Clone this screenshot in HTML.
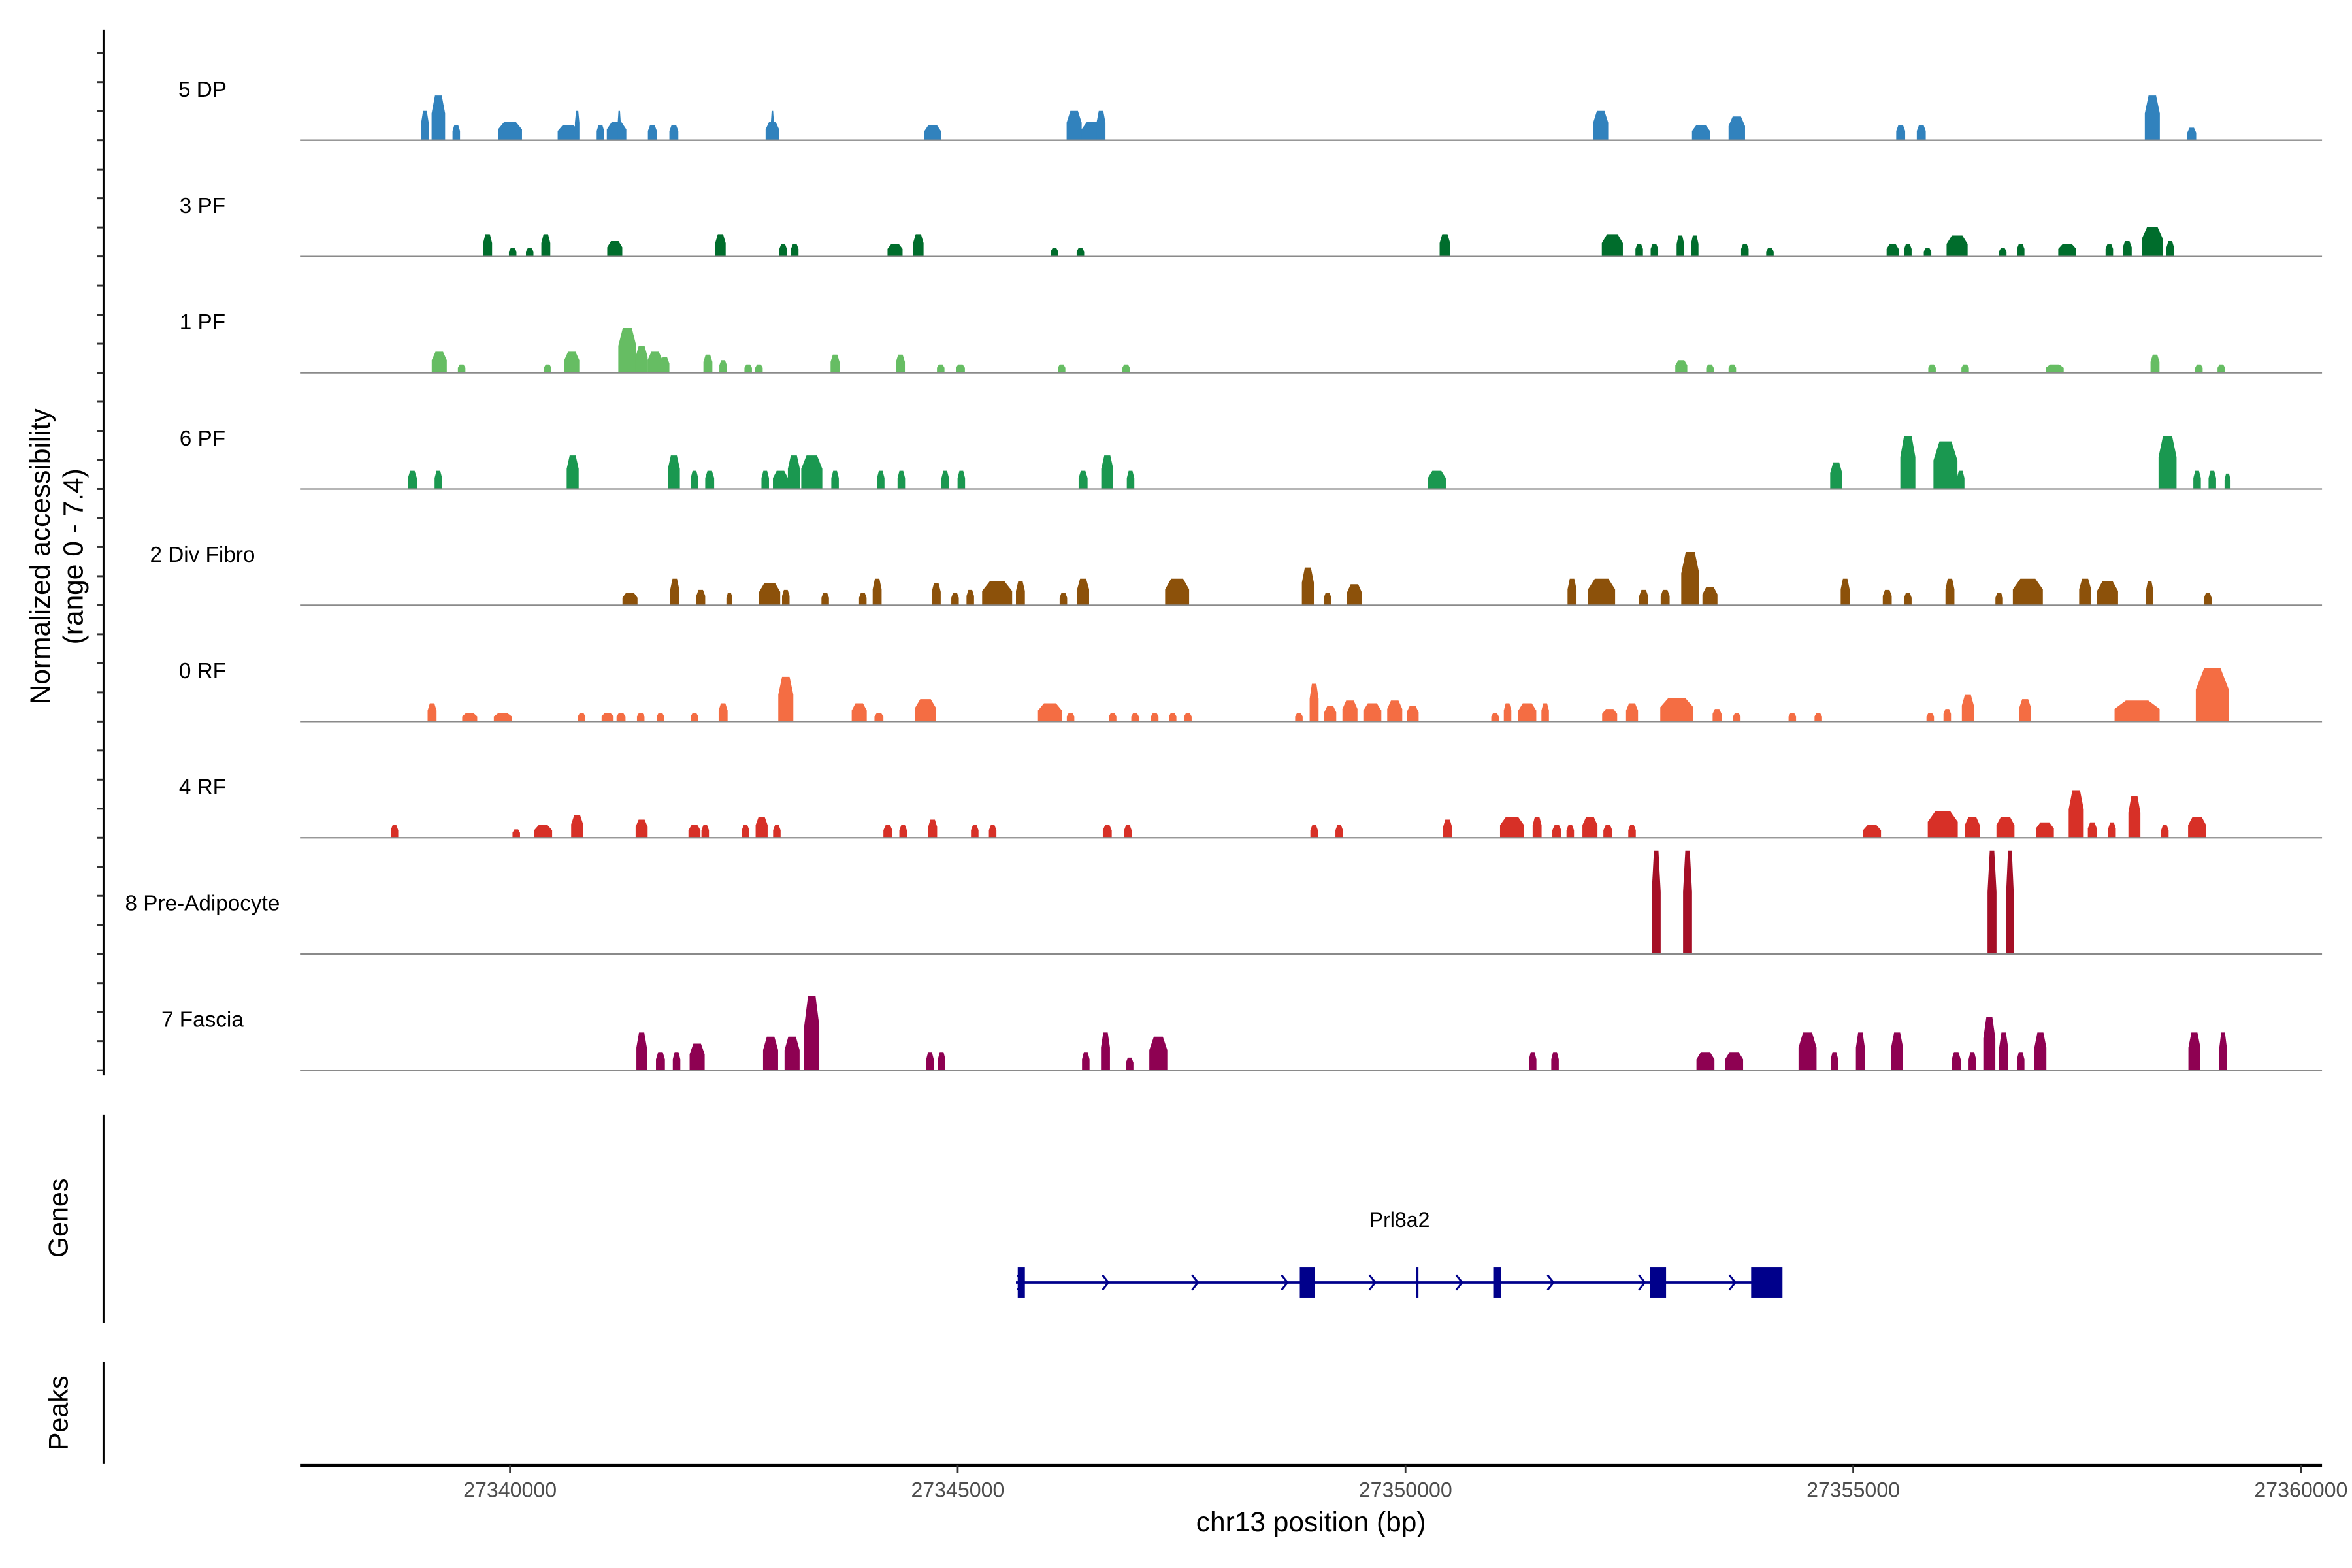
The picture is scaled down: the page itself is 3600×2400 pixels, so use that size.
<!DOCTYPE html>
<html><head><meta charset="utf-8"><style>
html,body{margin:0;padding:0;background:#fff;}
svg{display:block;font-family:"Liberation Sans",sans-serif;}
</style></head><body>
<svg id="chart" width="3600" height="2400" viewBox="0 0 1568 1045.33" xmlns="http://www.w3.org/2000/svg">
<rect width="1568" height="1046" fill="#fff"/>
<g id="tracks"></g>
<line x1="69" y1="20" x2="69" y2="717" stroke="#000" stroke-width="1.3"/>
<g id="yticks"></g>
<text transform="translate(33,371) rotate(-90)" text-anchor="middle" font-size="18.5">Normalized accessibility</text>
<text transform="translate(55,371) rotate(-90)" text-anchor="middle" font-size="18.5">(range 0 - 7.4)</text>
<line x1="69" y1="743" x2="69" y2="882" stroke="#000" stroke-width="1.3"/>
<text transform="translate(45,812) rotate(-90)" text-anchor="middle" font-size="18">Genes</text>
<line x1="69" y1="908" x2="69" y2="976" stroke="#000" stroke-width="1.3"/>
<text transform="translate(45,942) rotate(-90)" text-anchor="middle" font-size="18">Peaks</text>
<g id="gene"></g>
<line x1="200" y1="977" x2="1548" y2="977" stroke="#000" stroke-width="2"/>
<g id="xticks"></g>
<text x="874" y="1021" text-anchor="middle" font-size="18.5">chr13 position (bp)</text>
</svg>
<script>
// positions: kb offset from chr13:27,340,000 ; width in bp ; value (normalized accessibility)
const trackNames = ["5 DP","3 PF","1 PF","6 PF","2 Div Fibro","0 RF","4 RF","8 Pre-Adipocyte","7 Fascia"];
const trackColors = ["#3182bd","#006d2c","#66bd63","#1a9850","#8c510a","#f46d43","#d73027","#a50f26","#8e0152"];
const xTicks = [27340000,27345000,27350000,27355000,27360000];
const peaks5DP = [[-0.95,84,2.1],[-0.80,151,3.2],[-0.60,84,1.1],[0.00,268,1.3],[0.75,50,2.1],[0.65,235,1.1],[1.01,84,1.1],[1.19,218,1.3],[1.22,34,2.1],[1.59,100,1.1],[1.83,100,1.1],[2.93,151,1.3],[2.93,34,2.1],[4.72,184,1.1],[6.30,168,2.1],[6.50,235,1.3],[6.60,100,2.1],[12.18,168,2.1],[13.30,201,1.1],[13.70,184,1.7],[15.53,100,1.1],[15.76,100,1.1],[18.34,168,3.2],[18.78,100,0.9]];
const peaks3PF = [[-0.25,100,1.6],[0.03,84,0.6],[0.22,84,0.6],[0.40,100,1.6],[1.17,168,1.1],[2.35,117,1.6],[3.05,84,0.9],[3.18,84,0.9],[4.30,168,0.9],[4.56,117,1.6],[6.08,84,0.6],[6.37,84,0.6],[10.44,117,1.6],[12.31,235,1.6],[12.61,84,0.9],[12.78,84,0.9],[13.07,84,1.5],[13.23,84,1.5],[13.79,84,0.9],[14.07,84,0.6],[15.44,134,0.9],[15.61,84,0.9],[15.83,84,0.6],[16.16,235,1.5],[16.67,84,0.6],[16.87,84,0.9],[17.39,201,0.9],[17.86,84,0.9],[18.06,100,1.1],[18.34,235,2.1],[18.54,84,1.1]];
const peaks1PF = [[-0.79,168,1.5],[-0.54,84,0.6],[0.42,84,0.6],[0.69,168,1.5],[1.31,201,3.2],[1.47,134,1.9],[1.62,168,1.5],[1.73,100,1.1],[2.21,100,1.3],[2.38,84,0.9],[2.66,84,0.6],[2.78,84,0.6],[3.63,100,1.3],[4.36,100,1.3],[4.81,84,0.6],[5.03,100,0.6],[6.16,84,0.6],[6.88,84,0.6],[13.08,134,0.9],[13.40,84,0.6],[13.65,84,0.6],[15.88,84,0.6],[16.25,84,0.6],[17.25,201,0.6],[18.37,100,1.3],[18.86,84,0.6],[19.11,84,0.6]];
const peaks6PF = [[-1.09,100,1.3],[-0.80,84,1.3],[0.70,134,2.4],[1.83,134,2.4],[2.06,84,1.3],[2.23,100,1.3],[2.85,84,1.3],[3.02,168,1.3],[3.17,134,2.4],[3.37,235,2.4],[3.63,84,1.3],[4.14,84,1.3],[4.37,84,1.3],[4.86,84,1.3],[5.04,84,1.3],[6.40,100,1.3],[6.67,134,2.4],[6.93,84,1.3],[10.35,201,1.3],[14.81,134,1.9],[15.61,168,3.8],[16.03,268,3.4],[16.20,84,1.3],[18.51,201,3.8],[18.84,84,1.3],[19.01,84,1.3],[19.18,67,1.1]];
const peaksDivFibro = [[1.34,168,0.9],[1.84,100,1.9],[2.13,100,1.1],[2.45,67,0.9],[2.90,235,1.6],[3.08,84,1.1],[3.52,84,0.9],[3.94,84,0.9],[4.10,100,1.9],[4.76,100,1.6],[4.97,84,0.9],[5.14,84,1.1],[5.44,335,1.7],[5.70,100,1.7],[6.18,84,0.9],[6.40,134,1.9],[7.45,268,1.9],[8.91,134,2.7],[9.13,84,0.9],[9.43,168,1.5],[11.86,100,1.9],[12.19,302,1.9],[12.66,100,1.1],[12.90,100,1.1],[13.18,201,3.8],[13.40,168,1.3],[14.91,100,1.9],[15.38,100,1.1],[15.61,84,0.9],[16.08,100,1.9],[16.63,84,0.9],[16.95,335,1.9],[17.59,134,1.9],[17.84,235,1.7],[18.31,84,1.7],[18.96,84,0.9]];
const peaks0RF = [[-0.87,100,1.3],[-0.45,168,0.6],[-0.08,201,0.6],[0.80,84,0.6],[1.09,134,0.6],[1.24,100,0.6],[1.46,84,0.6],[1.68,84,0.6],[2.06,84,0.6],[2.38,100,1.3],[3.08,168,3.2],[3.90,168,1.3],[4.12,100,0.6],[4.64,235,1.6],[6.03,268,1.3],[6.26,84,0.6],[6.73,84,0.6],[6.98,84,0.6],[7.20,84,0.6],[7.40,84,0.6],[7.57,84,0.6],[8.81,84,0.6],[8.98,100,2.7],[9.16,134,1.1],[9.38,168,1.5],[9.63,201,1.3],[9.88,168,1.5],[10.08,134,1.1],[11.00,84,0.6],[11.14,84,1.3],[11.36,201,1.3],[11.56,84,1.3],[12.28,168,0.9],[12.53,134,1.3],[13.03,369,1.7],[13.48,100,0.9],[13.70,84,0.6],[14.32,84,0.6],[14.61,84,0.6],[15.86,84,0.6],[16.05,84,0.9],[16.28,134,1.9],[16.92,134,1.6],[18.17,503,1.5],[19.01,369,3.8]];
const peaks4RF = [[-1.29,84,0.9],[0.07,84,0.6],[0.37,201,0.9],[0.75,134,1.6],[1.47,134,1.3],[2.06,134,0.9],[2.18,84,0.9],[2.63,84,0.9],[2.81,134,1.5],[2.98,84,0.9],[4.22,100,0.9],[4.39,84,0.9],[4.72,100,1.3],[5.19,84,0.9],[5.39,84,0.9],[6.67,100,0.9],[6.90,84,0.9],[8.98,84,0.9],[9.26,84,0.9],[10.47,100,1.3],[11.19,268,1.5],[11.47,100,1.5],[11.69,100,0.9],[11.84,84,0.9],[12.06,168,1.5],[12.26,100,0.9],[12.53,84,0.9],[15.21,201,0.9],[16.00,335,1.9],[16.33,168,1.5],[16.70,201,1.5],[17.14,201,1.1],[17.49,168,3.4],[17.67,100,1.1],[17.89,84,1.1],[18.14,134,3.0],[18.48,84,0.9],[18.84,201,1.5]];
const peaksPreAd = [[12.80,100,7.4],[13.15,100,7.4],[16.55,100,7.4],[16.75,84,7.4]];
const peaksFascia = [[1.47,117,2.7],[1.68,100,1.3],[1.86,84,1.3],[2.09,168,1.9],[2.91,168,2.4],[3.15,168,2.4],[3.37,168,5.3],[4.69,84,1.3],[4.82,84,1.3],[6.43,84,1.3],[6.65,100,2.7],[6.92,84,0.9],[7.24,201,2.4],[11.42,84,1.3],[11.67,84,1.3],[13.35,201,1.3],[13.67,201,1.3],[14.49,201,2.7],[14.79,84,1.3],[15.08,100,2.7],[15.49,134,2.7],[16.15,100,1.3],[16.33,84,1.3],[16.52,134,3.8],[16.68,100,2.7],[16.87,84,1.3],[17.09,134,2.7],[18.81,134,2.7],[19.13,84,2.7]];
const allPeaks = [peaks5DP,peaks3PF,peaks1PF,peaks6PF,peaksDivFibro,peaks0RF,peaks4RF,peaksPreAd,peaksFascia];
// gene model (bp)
const geneStart = 27345650, geneEnd = 27354150;
const exonStarts = [27345670,27348820,27350120,27350980,27352730,27353860];
const exonEnds   = [27345750,27348990,27350140,27351070,27352910,27354210];
const arrowPos = [27345700,27346650,27347650,27348650,27349630,27350600,27351620,27352640,27353650];
const geneName = "Prl8a2";

const NS = "http://www.w3.org/2000/svg";
const X0 = 27337655, X1 = 27360235, PL = 200, PR = 1548;
function xs(bp){ return PL + (bp - X0) / (X1 - X0) * (PR - PL); }
const firstBase = 93.5, trackStep = 77.5, yUnit = 69 / 7.4;
function ys(i, v){ return firstBase + i * trackStep - v * yUnit; }
function mk(tag, attrs, parent){ const e = document.createElementNS(NS, tag); for (const k in attrs) e.setAttribute(k, attrs[k]); parent.appendChild(e); return e; }

const tracksG = document.getElementById('tracks');
allPeaks.forEach((peaks, i) => {
  const g = mk('g', {}, tracksG);
  
  
  const b = ys(i, 0);
  peaks.forEach(p => {
    const c = 27340000 + p[0] * 1000, w = p[1], v = p[2];
    const x0 = xs(c - w / 2), x1 = xs(c + w / 2), xc = xs(c), hw = (x1 - x0) * 0.25;
    const top = ys(i, v), sh = ys(i, v * 0.6);
    const poly = mk('polygon', {points: `${x0},${b} ${x0},${sh} ${xc-hw},${top} ${xc+hw},${top} ${x1},${sh} ${x1},${b}`, fill: trackColors[i]}, g);
    
    
  });
  const bl = mk('line', {x1: PL, x2: PR, y1: b, y2: b, stroke: '#8a8a8a', 'stroke-width': 1}, g);
  
  
  const t = mk('text', {x: 135, y: b - 29, 'text-anchor': 'middle', 'font-size': 14.5, fill: '#000'}, g);
  
  
  t.textContent = trackNames[i];
});

const yt = document.getElementById('yticks');
for (let i = 0; i < trackNames.length; i++) {
  for (let k = 0; k < 4; k++) {
    const y = ys(i, 0) - k * trackStep / 4;
    const l = mk('line', {x1: 64.5, x2: 69, y1: y, y2: y, stroke: '#333', 'stroke-width': 1.3}, yt);
    
    
  }
}

const xt = document.getElementById('xticks');
xTicks.forEach(v => {
  const x = xs(v);
  const l = mk('line', {x1: x, x2: x, y1: 977, y2: 982, stroke: '#333', 'stroke-width': 1.2}, xt);
  
  
  const t = mk('text', {x: x, y: 998, 'text-anchor': 'middle', 'font-size': 14, fill: '#4d4d4d'}, xt);
  
  
  t.textContent = v;
});

const gg = document.getElementById('gene');
const gy = 855, gc = '#00008b';
const gl = mk('line', {x1: xs(geneStart), x2: xs(geneEnd), y1: gy, y2: gy, stroke: gc, 'stroke-width': 1.6}, gg);


arrowPos.forEach(p => {
  const x = xs(p);
  const a = mk('polyline', {points: `${x-2},${gy-5} ${x+2},${gy} ${x-2},${gy+5}`, fill: 'none', stroke: gc, 'stroke-width': 1.3}, gg);
  
  
});
exonStarts.forEach((s, j) => {
  const x0 = xs(s), x1 = xs(exonEnds[j]);
  const w = Math.max(x1 - x0, 1.5);
  const r = mk('rect', {x: x0, y: gy - 10, width: w, height: 20, fill: gc}, gg);
  
  
});
const gt = mk('text', {x: 933, y: 818, 'text-anchor': 'middle', 'font-size': 14, fill: '#000'}, gg);


gt.textContent = geneName;
</script>
</body></html>
